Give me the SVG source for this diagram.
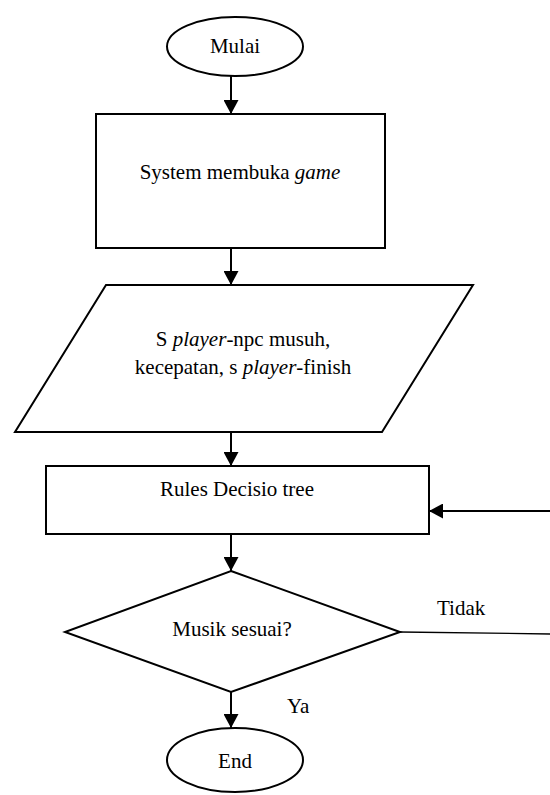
<svg xmlns="http://www.w3.org/2000/svg" width="550" height="795" viewBox="0 0 550 795">
  <style>
    .shape { fill: #ffffff; stroke: #000000; stroke-width: 2; }
    .line { fill: none; stroke: #000000; stroke-width: 2; }
    .thin { fill: none; stroke: #000000; stroke-width: 1.3; }
    .t { font-family: 'Liberation Serif', 'Times New Roman', Times, serif; font-size: 21px; fill: #000000; }
    .c { text-anchor: middle; }
    .i { font-style: italic; }
  </style>
  <defs>
    <marker id="arrow" viewBox="0 0 14 15" refX="14" refY="7.5" markerWidth="14" markerHeight="15" markerUnits="userSpaceOnUse" orient="auto">
      <path d="M0,0 L14,7.5 L0,15 Z" fill="#000000"/>
    </marker>
  </defs>

  <g id="connectors">
    <line class="line" x1="231" y1="76" x2="231" y2="114" marker-end="url(#arrow)"/>
    <line class="line" x1="231" y1="248" x2="231" y2="285" marker-end="url(#arrow)"/>
    <line class="line" x1="231" y1="432" x2="231" y2="466" marker-end="url(#arrow)"/>
    <line class="line" x1="231" y1="534" x2="231" y2="571" marker-end="url(#arrow)"/>
    <line class="line" x1="231" y1="692" x2="231" y2="728" marker-end="url(#arrow)"/>
    <line class="line" x1="550" y1="511" x2="429" y2="511" marker-end="url(#arrow)"/>
    <line class="thin" x1="400" y1="632" x2="550" y2="634"/>
    <text class="t" font-family="Liberation Serif, serif" x="437" y="615">Tidak</text>
    <text class="t" font-family="Liberation Serif, serif" x="287" y="713">Ya</text>
  </g>

  <g id="start">
    <ellipse class="shape" cx="235" cy="46.5" rx="68" ry="29.5"/>
    <text class="t c" font-family="Liberation Serif, serif" x="235" y="53">Mulai</text>
  </g>

  <g id="open-game">
    <rect class="shape" x="96" y="114" width="289" height="134"/>
    <text class="t c" font-family="Liberation Serif, serif" x="240" y="179">System membuka <tspan class="i">game</tspan></text>
  </g>

  <g id="input">
    <polygon class="shape" points="106,285 473,285 382,432 15,432"/>
    <text class="t c" font-family="Liberation Serif, serif" x="243" y="346">S <tspan class="i">player</tspan>-npc musuh,</text>
    <text class="t c" font-family="Liberation Serif, serif" x="243" y="374">kecepatan, s <tspan class="i">player</tspan>-finish</text>
  </g>

  <g id="rules">
    <rect class="shape" x="46" y="466" width="383" height="68"/>
    <text class="t c" font-family="Liberation Serif, serif" x="237" y="496">Rules Decisio tree</text>
  </g>

  <g id="decision">
    <polygon class="shape" points="231,571 400,632 231,692 65,632"/>
    <text class="t c" font-family="Liberation Serif, serif" x="232" y="636">Musik sesuai?</text>
  </g>

  <g id="end">
    <ellipse class="shape" cx="235" cy="760" rx="68" ry="32"/>
    <text class="t c" font-family="Liberation Serif, serif" x="235" y="768">End</text>
  </g>
</svg>
